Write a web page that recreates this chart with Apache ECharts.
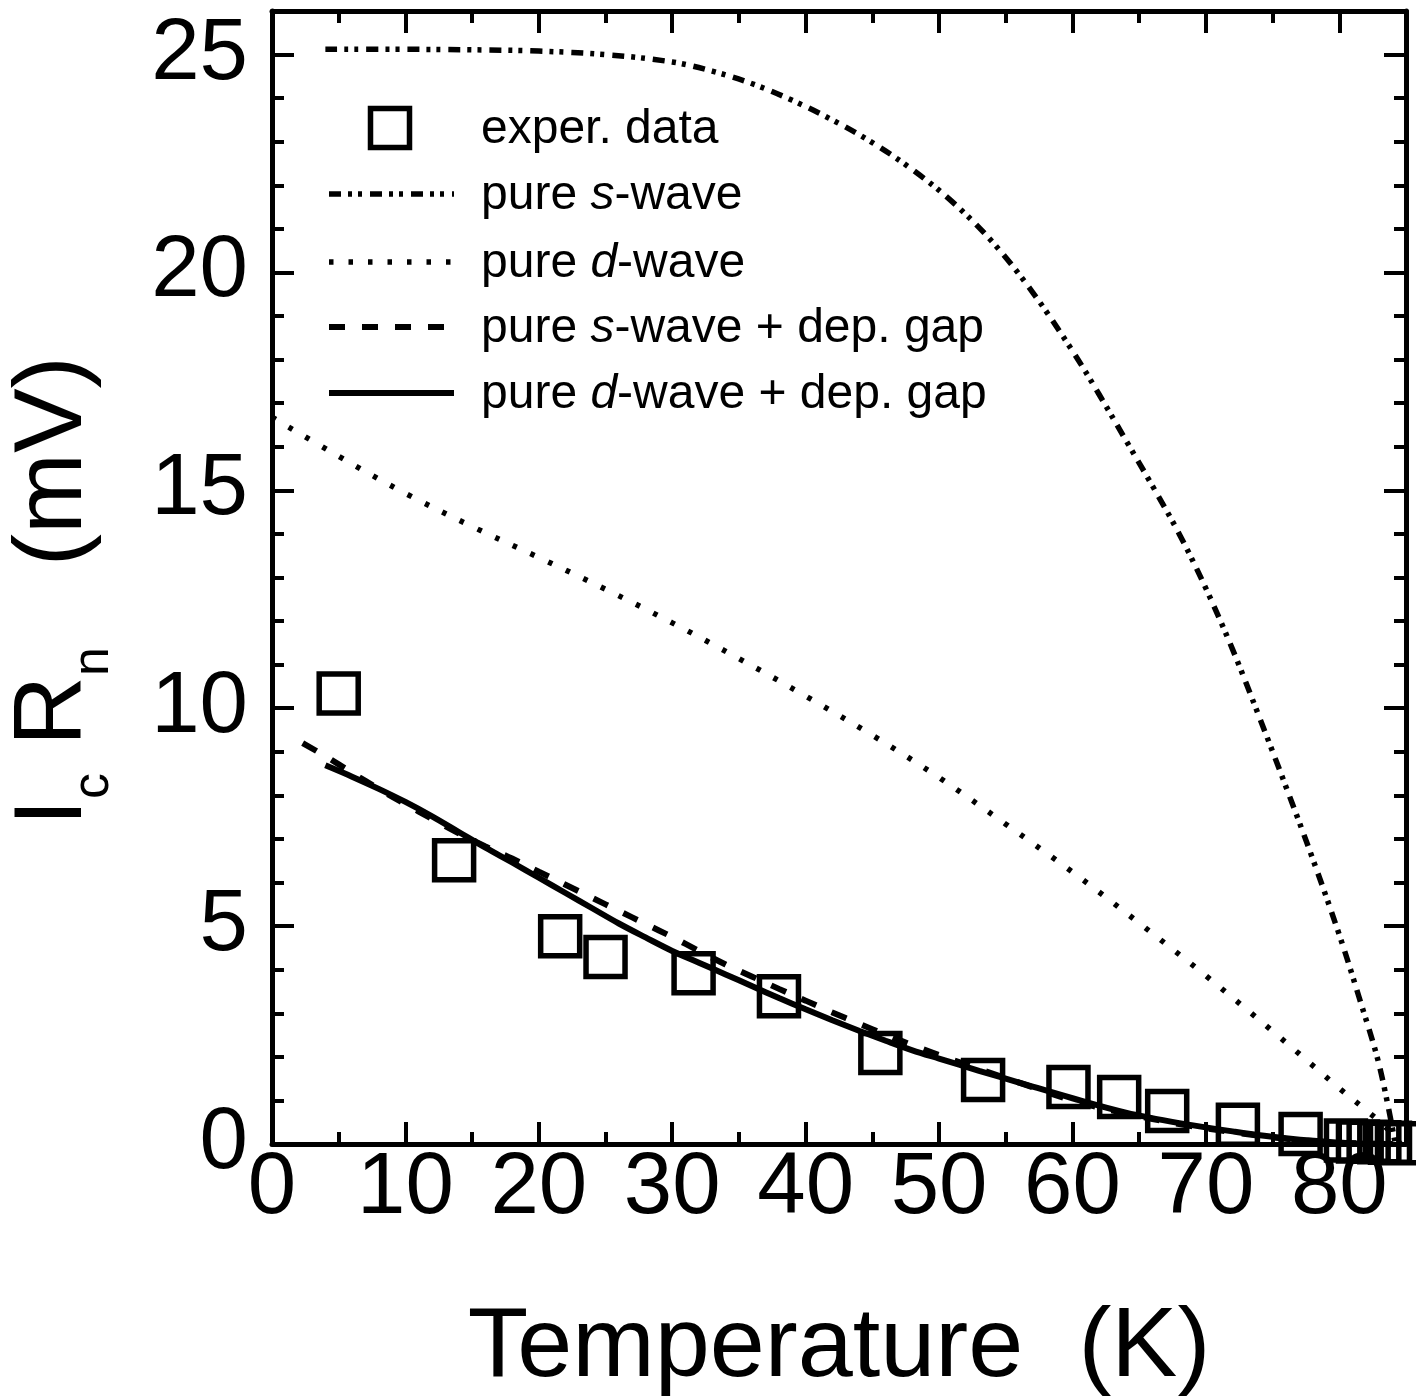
<!DOCTYPE html>
<html><head><meta charset="utf-8">
<script src="https://cdn.jsdelivr.net/npm/echarts@6/dist/echarts.min.js"></script>
<style>html,body{margin:0;padding:0;background:#fff}#c{width:1416px;height:1398px}</style>
</head><body><div id="c"></div>
<script>
// ---- data ----
const xTickLabels = [0,10,20,30,40,50,60,70,80];
const yTickLabels = [0,5,10,15,20,25];

const experT     = [5.0,13.65,21.6,25.0,31.6,38.0,45.6,53.3,59.7,63.5,67.1,72.4,77.1,80.5,81.4,82.2,83.0,83.8,84.6];
const experIcRn  = [10.34,6.51,4.77,4.29,3.92,3.39,2.09,1.47,1.31,1.08,0.76,0.44,0.23,0.08,0.06,0.05,0.04,0.03,0.02];

const sWaveT = [4,10,15,20,25,30,33,36,39,42,45,48,51,54,57,60,62,64,66,68,70,72,74,76,78,80,81.5,83,84.2];
const sWaveV = [25.12,25.12,25.11,25.08,25.0,24.83,24.62,24.33,23.95,23.50,22.98,22.36,21.62,20.70,19.55,18.20,17.20,16.15,15.10,14.00,12.75,11.35,9.80,8.20,6.55,4.80,3.35,1.80,0];

const dWaveT = [0,5,10,15,20,25,30,35,40,45,50,55,60,65,70,75,80,82,83.5,84.6];
const dWaveV = [16.68,15.78,14.93,14.17,13.46,12.73,11.96,11.14,10.28,9.38,8.41,7.34,6.24,5.07,3.86,2.59,1.28,0.78,0.38,0];

const sDepT = [2.3,4,6,8,10,12,14,16,18,20,22,24,26,28,30,32,34,36,38,40,42,44,46,48,50,53,56,60,64,68,72,76,80,84];
const sDepV = [9.20,8.90,8.52,8.15,7.80,7.46,7.13,6.83,6.55,6.25,5.95,5.65,5.35,5.05,4.75,4.43,4.12,3.84,3.56,3.29,3.02,2.76,2.51,2.27,2.04,1.72,1.41,1.00,0.70,0.46,0.27,0.12,0.03,0];

const dDepT = [4,6,8,10,12,14,16,18,20,22,24,26,28,30,32,34,36,38,40,42,44,46,48,50,53,56,60,64,68,72,76,80,84];
const dDepV = [8.69,8.43,8.15,7.85,7.52,7.16,6.80,6.46,6.11,5.76,5.41,5.06,4.74,4.43,4.16,3.89,3.62,3.35,3.09,2.84,2.60,2.37,2.15,1.96,1.68,1.41,1.05,0.72,0.48,0.29,0.13,0.03,0];

const legendNames = ['exper. data','pure s-wave','pure d-wave','pure s-wave + dep. gap','pure d-wave + dep. gap'];

// ---- helpers ----
const FONT = "'Liberation Sans', Arial, Helvetica, sans-serif";
const zip = (a,b) => a.map((v,i)=>[v,b[i]]);
const XMIN=0, XMAX=85, YMIN=0, YMAX=26;

function xAx(pos, interval, len, labels, line){
  return {type:'value', position:pos, min:XMIN, max:XMAX, interval:interval,
    axisLine:{show:line, onZero:false, lineStyle:{color:'#000', width:5}},
    axisTick:{show:true, inside:true, length:len, lineStyle:{color:'#000', width:4}},
    axisLabel:{show:labels, color:'#000', fontSize:87, fontFamily:FONT, margin:2, lineHeight:87,
      formatter:v => xTickLabels.includes(v) ? String(v) : ''},
    splitLine:{show:false}};
}
function yAx(pos, interval, len, labels, line){
  return {type:'value', position:pos, min:YMIN, max:YMAX, interval:interval,
    axisLine:{show:line, onZero:false, lineStyle:{color:'#000', width:5}},
    axisTick:{show:true, inside:true, length:len, lineStyle:{color:'#000', width:4}},
    axisLabel:{show:labels, color:'#000', fontSize:87, fontFamily:FONT, margin:24,
      formatter:v => yTickLabels.includes(v) ? String(v) : ''},
    splitLine:{show:false}};
}

const xAxes = [xAx('bottom',10,22,true,true), xAx('bottom',5,12,false,false), xAx('top',10,22,false,true), xAx('top',5,12,false,false)];
xAxes[0].name = 'Temperature  (K)';
xAxes[0].nameLocation = 'middle';
xAxes[0].nameGap = 155;
xAxes[0].nameTextStyle = {color:'#000', fontSize:99, fontFamily:FONT, lineHeight:99};
const yAxes = [yAx('left',5,22,true,true), yAx('left',1,12,false,false), yAx('right',5,22,false,true), yAx('right',1,12,false,false)];

function lineSeries(name, T, V, type, width){
  return {name:name, type:'line', data:zip(T,V), xAxisIndex:0, yAxisIndex:0, showSymbol:false, symbol:'none',
    smooth:0.35, lineStyle:{color:'#000', width:width, type:type, cap:'butt'}, z:3};
}

// legend drawn with graphic elements
const legX0 = 329, legX1 = 454, legTextX = 481;
const legRows = [128, 194, 262, 327, 393];
const legRich = {n:{fontSize:48, fontFamily:FONT, fill:'#000'}, i:{fontSize:48, fontFamily:FONT, fontStyle:'italic', fill:'#000'}};
const legTexts = ['{n|exper. data}','{n|pure }{i|s}{n|-wave}','{n|pure }{i|d}{n|-wave}','{n|pure }{i|s}{n|-wave + dep. gap}','{n|pure }{i|d}{n|-wave + dep. gap}'];
const legDash = [null,[12,7,4,6,4,8],[4.5,15],[16,17],null];
const legWidth = [5,5.5,5.5,6,6];
const graphics = [];
graphics.push({type:'rect', shape:{x:390-19.5, y:legRows[0]-19.5, width:39, height:39}, style:{fill:'none', stroke:'#000', lineWidth:5.5}});
for (let k=1;k<5;k++){
  graphics.push({type:'line', shape:{x1:legX0, y1:legRows[k], x2:legX1, y2:legRows[k]},
    style:{stroke:'#000', lineWidth:legWidth[k], lineDash:legDash[k], lineCap:'butt'}});
}
for (let k=0;k<5;k++){
  graphics.push({type:'text', x:legTextX, y:legRows[k]+2, style:{text:legTexts[k], rich:legRich, align:'left', verticalAlign:'middle', fill:'#000'}});
}
// y axis title (subscripts via rich text)
graphics.push({type:'text', x:62.5, y:591, rotation:Math.PI/2,
  style:{text:'{a|I}{s|c}{a| R}{s|n}{a|   (mV)}', align:'center', verticalAlign:'middle', fill:'#000',
    rich:{a:{fontSize:97, lineHeight:114, verticalAlign:'top', fontFamily:FONT, fill:'#000'},
          s:{fontSize:52, lineHeight:10, verticalAlign:'bottom', fontFamily:FONT, fill:'#000'}}}});

const option = {
  backgroundColor:'#fff',
  animation:false,
  grid:{left:272, right:10, top:11, bottom:254, containLabel:false, outerBoundsMode:'none'},
  xAxis:xAxes,
  yAxis:yAxes,
  series:[
    {name:legendNames[0], type:'scatter', data:zip(experT, experIcRn), symbol:'rect', symbolSize:39, clip:false,
      itemStyle:{color:'rgba(0,0,0,0)', borderColor:'#000', borderWidth:5.5, opacity:1}, z:4},
    lineSeries(legendNames[1], sWaveT, sWaveV, [12,7,4,6,4,8], 5.5),
    lineSeries(legendNames[2], dWaveT, dWaveV, [4.5,15], 5.5),
    lineSeries(legendNames[3], sDepT, sDepV, [16,17], 6),
    lineSeries(legendNames[4], dDepT, dDepV, 'solid', 6)
  ],
  graphic:graphics
};
const chart = echarts.init(document.getElementById('c'), null, {renderer:'canvas'});
chart.setOption(option);
</script>
</body></html>
